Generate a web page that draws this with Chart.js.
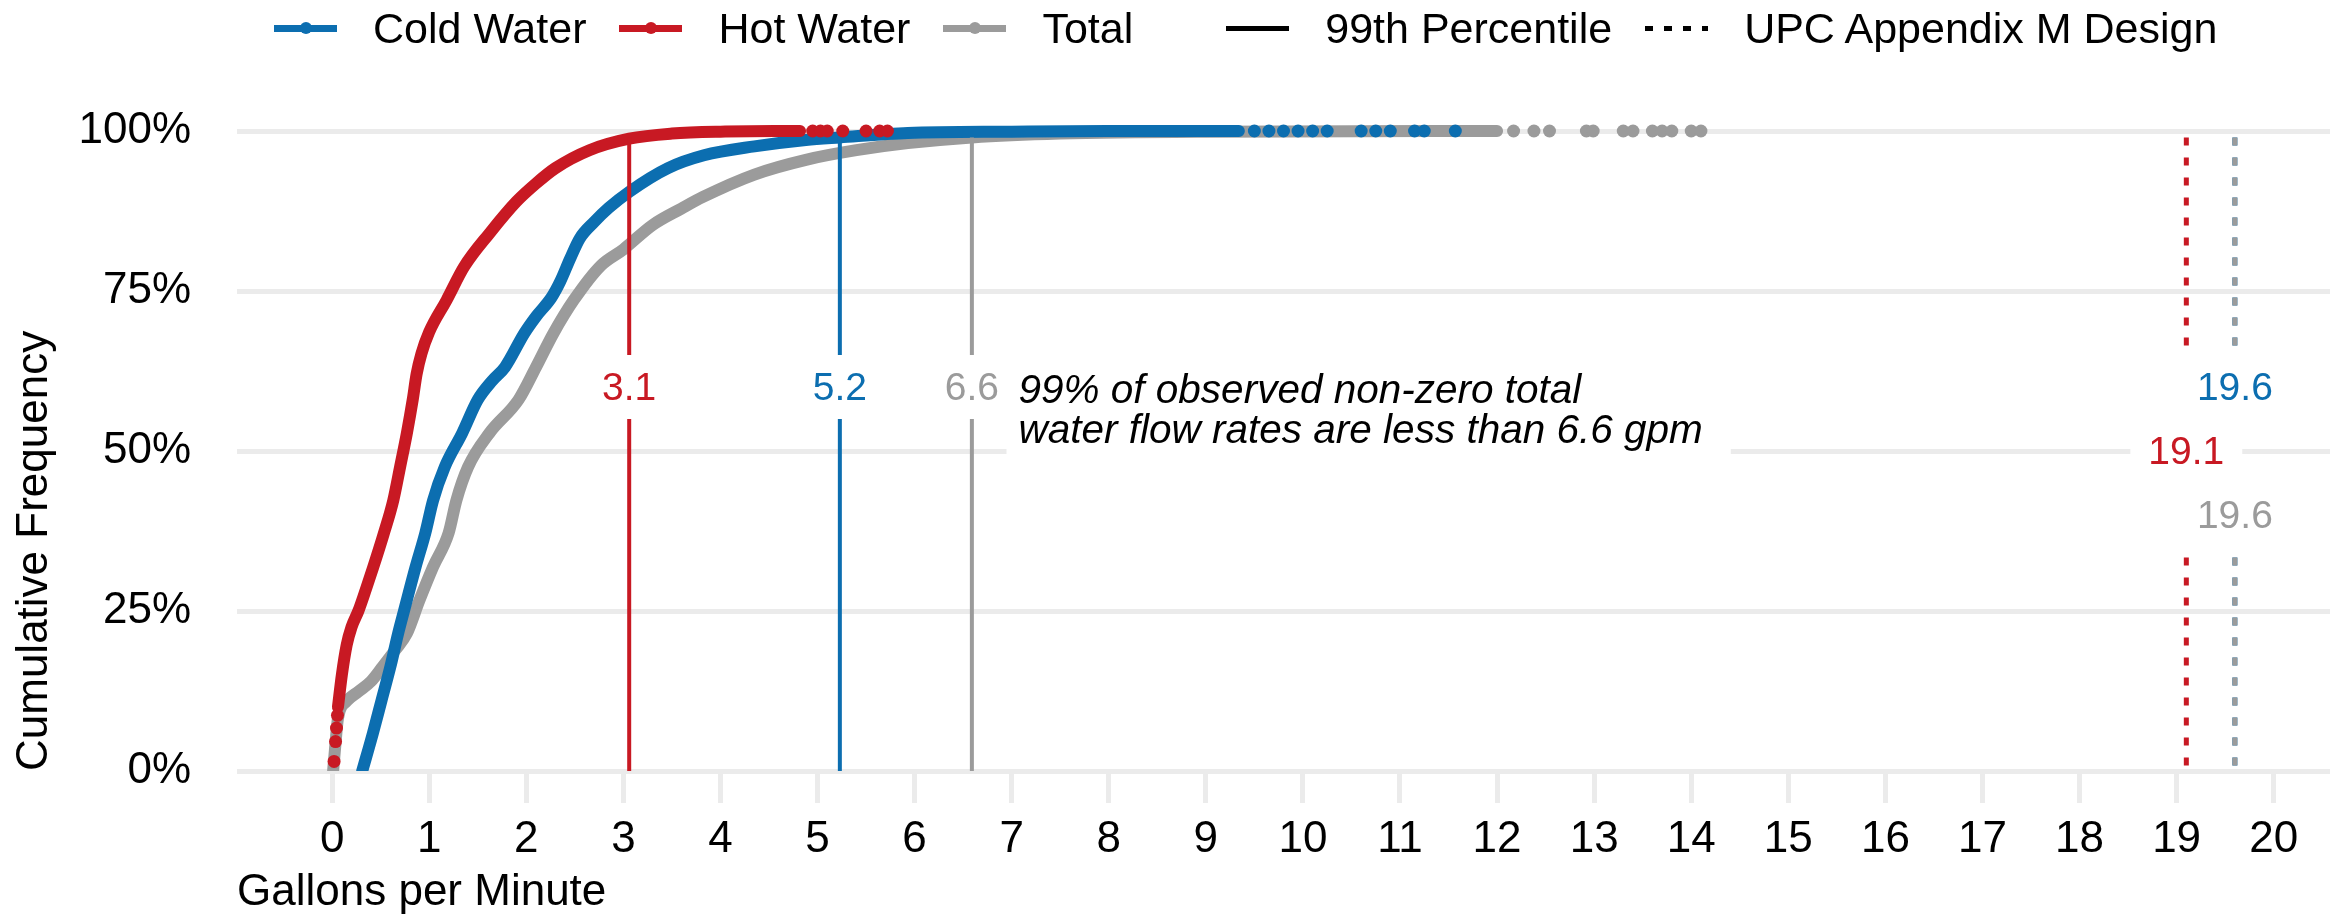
<!DOCTYPE html>
<html>
<head>
<meta charset="utf-8">
<script src="https://cdn.jsdelivr.net/npm/chart.js@4.4.1/dist/chart.umd.min.js"></script>
<style>
  html, body { margin: 0; padding: 0; background: #fff; }
  #wrap { position: relative; width: 2343px; height: 915px; }
  #legend {
    position: absolute; left: 274px; top: 0; height: 56px;
    display: flex; align-items: center;
    font-family: "Liberation Sans", Arial, sans-serif; font-size: 43px; line-height: 1; color: #000;
  }
  .item { display: flex; align-items: center; margin-right: 33px; }
  .item.group { margin-left: 60px; }
  .key { position: relative; width: 63px; height: 7px; margin-right: 36px; background: var(--c); }
  .key i {
    position: absolute; left: 50%; top: 50%; width: 12px; height: 12px; border-radius: 50%;
    background: var(--c); transform: translate(-50%, -50%);
  }
  .key.solid { height: 5px; background: #000; }
  .key.dotted { height: 5px; background: repeating-linear-gradient(to right, #000 0 8px, transparent 8px 19px); }
</style>
</head>
<body>
<div id="wrap">
  <canvas id="chart" width="2343" height="915"></canvas>
  <div id="legend">
    <div class="item"><span class="key" style="--c:#0C6EB0"><i></i></span><span>Cold Water</span></div>
    <div class="item"><span class="key" style="--c:#C81923"><i></i></span><span>Hot Water</span></div>
    <div class="item"><span class="key" style="--c:#9B9B9B"><i></i></span><span>Total</span></div>
    <div class="item group"><span class="key solid"></span><span>99th Percentile</span></div>
    <div class="item"><span class="key dotted"></span><span>UPC Appendix M Design</span></div>
  </div>
</div>
<script>
// datos (gpm, frecuencia acumulada)
const coldX = [0.31, 0.42, 0.51, 0.60, 0.68, 0.74, 0.86, 0.96, 1.04, 1.16, 1.34, 1.50, 1.65, 1.78, 1.98, 2.10, 2.26, 2.35, 2.45, 2.55, 2.70, 2.85, 3.06, 3.46, 3.83, 4.35, 4.88, 5.23, 5.93, 7.00, 8.00, 9.34];
const coldY = [0, 0.059, 0.111, 0.163, 0.215, 0.25, 0.319, 0.372, 0.423, 0.475, 0.528, 0.58, 0.61, 0.631, 0.684, 0.71, 0.74, 0.765, 0.80, 0.832, 0.858, 0.88, 0.905, 0.942, 0.962, 0.976, 0.986, 0.99, 0.997, 0.999, 1.0, 1.0];

const hotX = [0.06, 0.10, 0.15, 0.20, 0.27, 0.35, 0.42, 0.53, 0.63, 0.70, 0.77, 0.83, 0.87, 0.92, 1.00, 1.18, 1.36, 1.62, 1.90, 2.10, 2.30, 2.65, 3.06, 3.50, 4.00, 4.82];
const hotY = [0.10, 0.15, 0.197, 0.225, 0.25, 0.285, 0.317, 0.37, 0.423, 0.475, 0.528, 0.58, 0.62, 0.652, 0.686, 0.736, 0.788, 0.84, 0.89, 0.918, 0.942, 0.97, 0.988, 0.996, 0.999, 1.0];

const totalX = [0.01, 0.03, 0.06, 0.15, 0.27, 0.40, 0.52, 0.65, 0.77, 0.90, 1.04, 1.20, 1.28, 1.40, 1.62, 1.92, 2.10, 2.28, 2.49, 2.77, 3.00, 3.30, 3.60, 3.82, 4.35, 4.88, 5.40, 5.93, 6.59, 7.50, 9.00, 12.00];
const totalY = [0, 0.035, 0.082, 0.109, 0.124, 0.14, 0.163, 0.189, 0.215, 0.267, 0.319, 0.372, 0.423, 0.475, 0.528, 0.58, 0.631, 0.684, 0.736, 0.79, 0.815, 0.853, 0.879, 0.897, 0.932, 0.955, 0.97, 0.981, 0.99, 0.996, 0.999, 1.0];

// puntos sueltos
const coldTail = [[9.50, 1], [9.65, 1], [9.80, 1], [9.95, 1], [10.10, 1], [10.25, 1], [10.60, 1], [10.75, 1], [10.90, 1], [11.15, 1], [11.25, 1], [11.57, 1]];
const hotTail = [[0.02, 0.015], [0.035, 0.046], [0.045, 0.067], [0.055, 0.087], [4.95, 1], [5.03, 1], [5.10, 1], [5.26, 1], [5.50, 1], [5.64, 1], [5.72, 1]];
const totalTail = [[12.17, 1], [12.38, 1], [12.54, 1], [12.92, 1], [12.99, 1], [13.30, 1], [13.40, 1], [13.60, 1], [13.70, 1], [13.80, 1], [14.00, 1], [14.10, 1]];

// percentil 99 y diseno UPC (orden: cold, hot, total)
const p99Values = [5.23, 3.06, 6.59];
const p99LabelY = [0.6, 0.6, 0.6];
const upcValues = [19.6, 19.1, 19.6];
const upcLabelY = [0.6, 0.5, 0.4];
const lineTop = 0.99;

const noteX = 7.07;
const noteY = 0.6;
const noteLines = ["99% of observed non-zero total", "water flow rates are less than 6.6 gpm"];

const xTicks = [0, 1, 2, 3, 4, 5, 6, 7, 8, 9, 10, 11, 12, 13, 14, 15, 16, 17, 18, 19, 20];
const yTicks = [0, 0.25, 0.5, 0.75, 1];

const colores = ["#0C6EB0", "#C81923", "#9B9B9B"];
const FONT = '"Liberation Sans", Arial, sans-serif';

const toPts = (xs, ys) => xs.map((v, i) => ({ x: v, y: ys[i] }));
const pairs = arr => arr.map(p => ({ x: p[0], y: p[1] }));

const curva = (label, data, color) => ({
  label, data,
  showLine: true,
  borderColor: color,
  backgroundColor: color,
  borderWidth: 12,
  borderCapStyle: "round",
  borderJoinStyle: "round",
  pointRadius: 0,
  cubicInterpolationMode: "monotone"
});
const puntos = (label, data, color) => ({
  label, data,
  showLine: false,
  backgroundColor: color,
  borderWidth: 0,
  pointRadius: 6.5
});

const overlay = {
  id: "overlay",
  afterDatasetsDraw(chart) {
    const { ctx, scales: { x, y } } = chart;
    ctx.save();

    // === 99th percentile (solid) ===
    ctx.lineWidth = 4;
    p99Values.forEach((v, i) => {
      const px = x.getPixelForValue(v);
      ctx.strokeStyle = colores[i];
      ctx.beginPath();
      ctx.moveTo(px, y.getPixelForValue(0));
      ctx.lineTo(px, y.getPixelForValue(lineTop));
      ctx.stroke();
    });

    // === UPC Appendix M (dotted) ===
    ctx.lineWidth = 5;
    ctx.setLineDash([8, 12]);
    upcValues.forEach((v, i) => {
      const px = x.getPixelForValue(v);
      ctx.strokeStyle = colores[i];
      ctx.beginPath();
      ctx.moveTo(px, y.getPixelForValue(lineTop));
      ctx.lineTo(px, y.getPixelForValue(0));
      ctx.stroke();
    });
    ctx.setLineDash([]);

    // === etiquetas con fondo blanco ===
    ctx.font = "39px " + FONT;
    ctx.textAlign = "center";
    ctx.textBaseline = "middle";
    const etiqueta = (v, yv, color) => {
      const txt = v.toFixed(1);
      const px = x.getPixelForValue(v);
      const py = y.getPixelForValue(yv);
      const w = ctx.measureText(txt).width + 36;
      ctx.fillStyle = "#fff";
      ctx.fillRect(px - w / 2, py - 32, w, 64);
      ctx.fillStyle = color;
      ctx.fillText(txt, px, py + 2);
    };
    p99Values.forEach((v, i) => etiqueta(v, p99LabelY[i], colores[i]));
    upcValues.forEach((v, i) => etiqueta(v, upcLabelY[i], colores[i]));

    // === nota ===
    ctx.font = "italic 40.5px " + FONT;
    ctx.textAlign = "left";
    const nx = x.getPixelForValue(noteX);
    const ny = y.getPixelForValue(noteY);
    const anchoMax = Math.max(...noteLines.map(t => ctx.measureText(t).width));
    ctx.fillStyle = "#fff";
    ctx.fillRect(nx - 12, ny - 28, anchoMax + 40, 104);
    ctx.fillStyle = "#000";
    noteLines.forEach((t, i) => ctx.fillText(t, nx, ny + 5 + i * 40));

    ctx.restore();
  }
};

new Chart(document.getElementById("chart"), {
  type: "scatter",
  data: {
    datasets: [
      puntos("Hot Water points", pairs(hotTail), colores[1]),
      curva("Hot Water", toPts(hotX, hotY), colores[1]),
      puntos("Cold Water points", pairs(coldTail), colores[0]),
      curva("Cold Water", toPts(coldX, coldY), colores[0]),
      puntos("Total points", pairs(totalTail), colores[2]),
      curva("Total", toPts(totalX, totalY), colores[2])
    ]
  },
  options: {
    responsive: false,
    animation: false,
    layout: { padding: { left: 8, right: 13, top: 99, bottom: 0 } },
    plugins: {
      legend: { display: false },
      tooltip: { enabled: false }
    },
    scales: {
      x: {
        type: "linear",
        min: -0.98,
        max: 20.58,
        afterBuildTicks: s => { s.ticks = xTicks.map(v => ({ value: v })); },
        afterFit: s => { s.height = 144; },
        border: { display: false },
        grid: { drawOnChartArea: false, drawTicks: true, tickLength: 32, tickWidth: 5, tickColor: "#EBEBEB" },
        ticks: { font: { family: FONT, size: 44 }, color: "#000", padding: 10, maxRotation: 0, autoSkip: false },
        title: { display: true, text: "Gallons per Minute", align: "start", color: "#000",
                 font: { family: FONT, size: 44, lineHeight: 1 }, padding: { top: 0, bottom: 0 } }
      },
      y: {
        type: "linear",
        min: 0,
        max: 1.05,
        afterBuildTicks: s => { s.ticks = yTicks.map(v => ({ value: v })); },
        afterFit: s => { s.width = 229; },
        border: { display: false },
        grid: { color: "#EBEBEB", lineWidth: 5, drawTicks: false },
        ticks: { font: { family: FONT, size: 44 }, color: "#000", padding: 46,
                 callback: v => Math.round(v * 100) + "%" },
        title: { display: true, text: "Cumulative Frequency", align: "start", color: "#000",
                 font: { family: FONT, size: 44 }, padding: { top: 0, bottom: 0 } }
      }
    }
  },
  plugins: [overlay]
});
</script>
</body>
</html>
